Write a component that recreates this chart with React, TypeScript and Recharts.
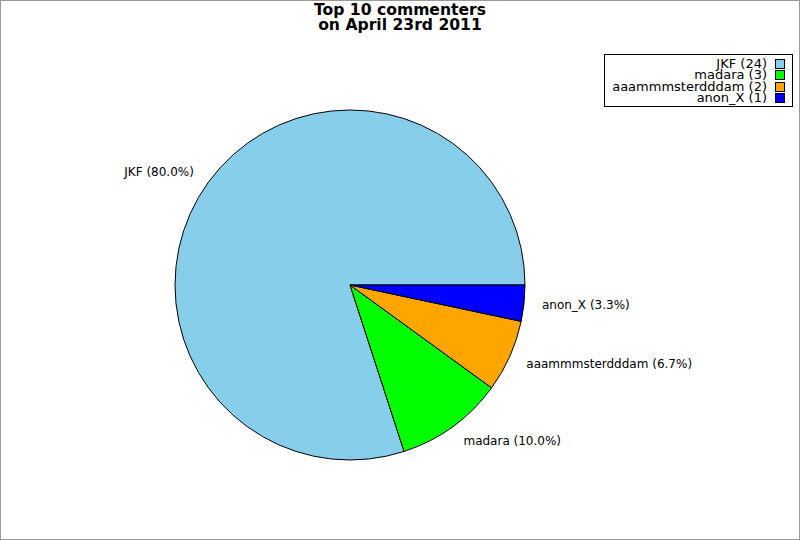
import * as React from "react";
import { PieChart, Pie, Cell, Legend } from "recharts";

const commenters = ["JKF", "madara", "aaammmsterdddam", "anon_X"];
const comments = [24, 3, 2, 1];
const sliceColors = ["#87ceeb", "#00ff00", "#ffa500", "#0000ff"];
const titleLines = ["Top 10 commenters", "on April 23rd 2011"];

const data = commenters.map((name, i) => ({ name, value: comments[i] }));

const RAD = Math.PI / 180;
const FONT = "'DejaVu Sans', sans-serif";

function renderLabel(props: any) {
  const { cx, cy, midAngle, outerRadius, percent, name } = props;
  const r = outerRadius + 18;
  const x = cx + r * Math.cos(-midAngle * RAD);
  const y = cy + r * Math.sin(-midAngle * RAD);
  return (
    <text
      x={x}
      y={y}
      fill="#000"
      fontSize={12}
      fontFamily={FONT}
      textAnchor={x > cx ? "start" : "end"}
      dominantBaseline="central"
    >
      {`${name} (${(percent * 100).toFixed(1)}%)`}
    </text>
  );
}

function LegendBox() {
  return (
    <div
      style={{
        width: 189,
        height: 53,
        boxSizing: "border-box",
        border: "1px solid #000",
        background: "#fff",
        paddingTop: 3,
        fontFamily: FONT,
        fontSize: 13,
        lineHeight: "11.4px",
      }}
    >
      {data.map((d, i) => (
        <div
          key={d.name}
          style={{ display: "flex", justifyContent: "flex-end", alignItems: "center", paddingRight: 7 }}
        >
          <span style={{ color: "#000" }}>{`${d.name} (${d.value})`}</span>
          <span
            style={{
              display: "inline-block",
              width: 8,
              height: 8,
              marginLeft: 8,
              border: "1px solid #000",
              background: sliceColors[i],
            }}
          />
        </div>
      ))}
    </div>
  );
}

export default function App() {
  return (
    <div style={{ position: "absolute", left: 0, top: 0, width: 800, height: 540, background: "#fff" }}>
      <div
        style={{
          position: "absolute",
          left: 0,
          top: 3,
          width: 800,
          textAlign: "center",
          fontFamily: FONT,
          fontWeight: "bold",
          fontSize: 15.6,
          lineHeight: "15px",
          color: "#000",
        }}
      >
        {titleLines.map((t) => (
          <div key={t}>{t}</div>
        ))}
      </div>
      <PieChart width={800} height={540} margin={{ top: 0, right: 0, bottom: 0, left: 0 }}>
        <Pie
          data={data}
          dataKey="value"
          nameKey="name"
          cx={350}
          cy={285}
          outerRadius={175}
          startAngle={0}
          endAngle={360}
          stroke="#000"
          strokeWidth={1}
          label={renderLabel}
          labelLine={false}
          isAnimationActive={false}
        >
          {data.map((d, i) => (
            <Cell key={d.name} fill={sliceColors[i]} />
          ))}
        </Pie>
        <Legend
          content={() => <LegendBox />}
          wrapperStyle={{ position: "absolute", left: 604, top: 54, width: 189, height: 53 }}
        />
      </PieChart>
      <div
        style={{
          position: "absolute",
          left: 0,
          top: 0,
          width: 800,
          height: 540,
          boxSizing: "border-box",
          border: "1px solid #999",
          pointerEvents: "none",
        }}
      />
    </div>
  );
}
